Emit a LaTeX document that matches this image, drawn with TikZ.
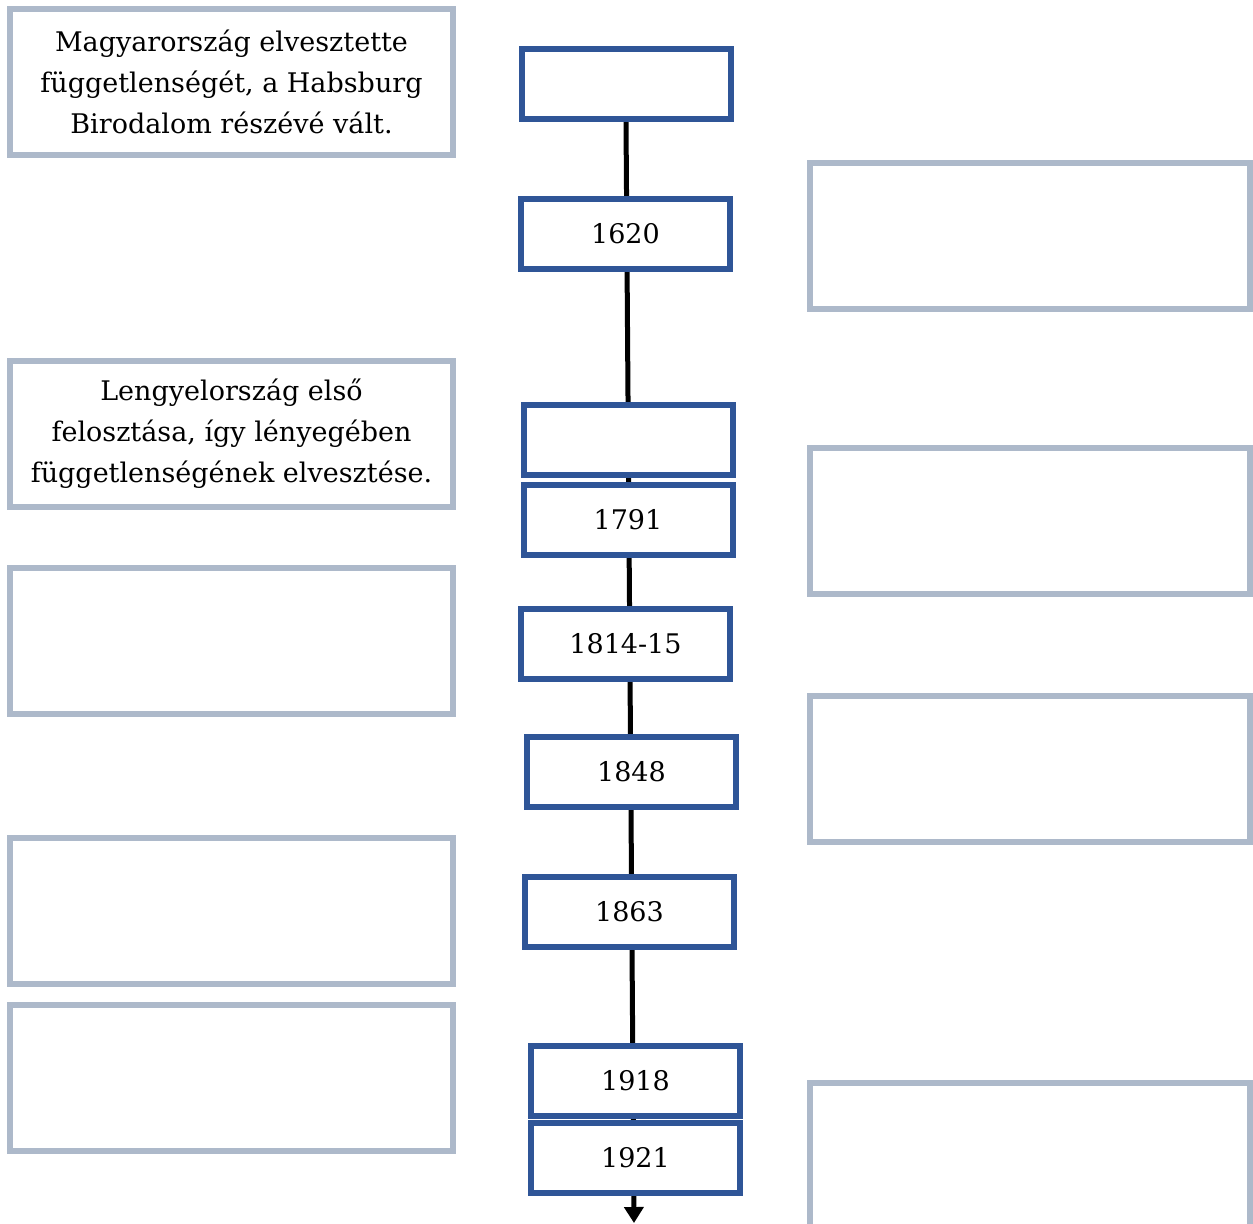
\documentclass[tikz,border=0pt]{standalone}
\usepackage{fontspec}
\setmainfont{DejaVu Serif}
\usepackage{tikz}
\usetikzlibrary{positioning,arrows.meta,backgrounds}
\definecolor{yearblue}{RGB}{47,85,151}
\definecolor{notegray}{RGB}{173,185,202}

\begin{document}
\begin{tikzpicture}[
  x=0.5pt,y=-0.5pt,
  every node/.style={font=\fontsize{13.5}{20.5}\selectfont},
  yearbox/.style={draw=yearblue,line width=3pt,fill=white,
    minimum width=104.5pt,minimum height=35pt,inner sep=0pt},
  notebox/.style={draw=notegray,line width=3pt,fill=white,
    minimum width=221.5pt,minimum height=73pt,inner sep=0pt,align=center},
  rightbox/.style={notebox,minimum width=220pt},
  timeline/.style={line width=2.5pt,-{Triangle[width=9.5pt,length=8pt]}}
]

\useasboundingbox (0,0) rectangle (1253,1223);

% ==================================================
% idővonal: évszámok
% ==================================================
\node[yearbox] (ev0)     at (626,83.5)    {};
\node[yearbox] (ev1620)  at (625.5,233.5) {1620};
\node[yearbox] (evblank) at (628,440)     {};
\node[yearbox] (ev1791)  at (628,519.5)   {1791};
\node[yearbox] (ev1814)  at (625.5,644)   {1814-15};
\node[yearbox] (ev1848)  at (631.5,772)   {1848};
\node[yearbox] (ev1863)  at (629.5,912)   {1863};
\node[yearbox] (ev1918)  at (635.5,1080.5) {1918};
\node[yearbox] (ev1921)  at (635.5,1158)  {1921};

% a vonal a dobozok mögött
\coordinate (tip) at (634,1223);
\begin{scope}[on background layer]
  \draw[timeline] (ev0.south) -- (tip);
\end{scope}

% ==================================================
% bal oldali szövegdobozok
% ==================================================
\node[notebox] (left1) at (231.5,82)
  {Magyarország elvesztette\\függetlenségét, a Habsburg\\Birodalom részévé vált.};
\node[notebox] (left2) at (231.5,434)
  {Lengyelország első\\felosztása, így lényegében\\függetlenségének elvesztése.};
\node[notebox] (left3) at (231.5,641) {};
\node[notebox] (left4) at (231.5,911) {};
\node[notebox] (left5) at (231.5,1078) {};

% ==================================================
% jobb oldali üres dobozok
% ==================================================
\node[rightbox] (right1) at (1030,236) {};
\node[rightbox] (right2) at (1030,520.5) {};
\node[rightbox] (right3) at (1030,768.5) {};
\node[rightbox] (right4) at (1030,1156) {};

\end{tikzpicture}
\end{document}
